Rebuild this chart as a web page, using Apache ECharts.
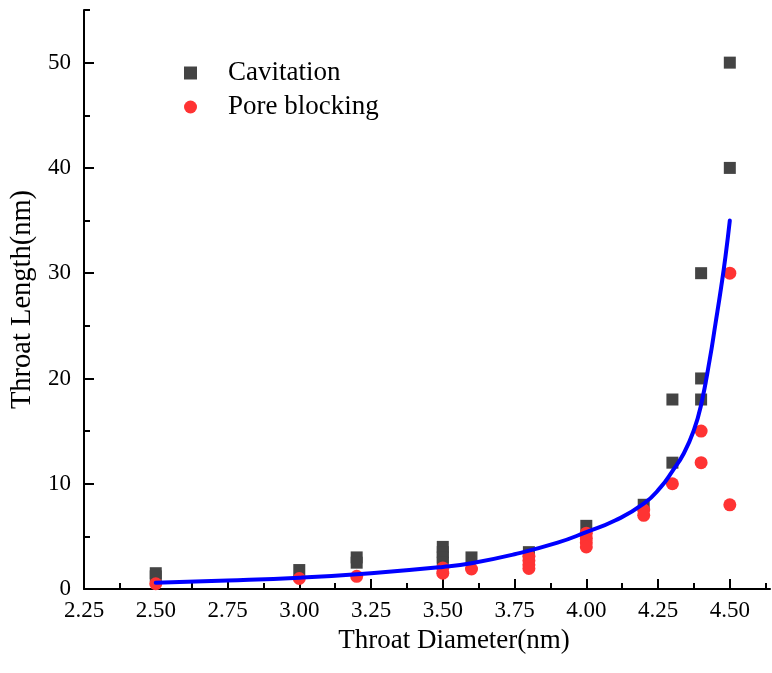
<!DOCTYPE html>
<html>
<head>
<meta charset="utf-8">
<script src="https://cdn.jsdelivr.net/npm/echarts@6/dist/echarts.min.js"></script>
<style>
html,body{margin:0;padding:0;background:#fff;}
#chart{width:772px;height:673px;}
</style>
</head>
<body>
<div id="chart"></div>
<script>
// ---- data ----
const cavitationX = [2.50, 2.50, 3.00, 3.20, 3.20, 3.50, 3.50, 3.50, 3.50, 3.60, 3.80, 4.00, 4.20, 4.30, 4.30, 4.40, 4.40, 4.40, 4.50, 4.50];
const cavitationY = [1.5, 1.2, 1.8, 3.0, 2.5, 4.0, 3.5, 3.0, 2.5, 3.0, 3.5, 6.0, 8.0, 12, 18, 18, 20, 30, 40, 50];

const poreX = [2.50, 3.00, 3.20, 3.50, 3.50, 3.60, 3.80, 3.80, 3.80, 3.80, 4.00, 4.00, 4.00, 4.00, 4.20, 4.20, 4.30, 4.40, 4.40, 4.50, 4.50];
const poreY = [0.5, 1.0, 1.2, 2.0, 1.5, 1.9, 3.1, 2.7, 2.3, 1.95, 5.3, 4.8, 4.4, 4.0, 7.5, 7.0, 10, 15, 12, 30, 8];

const fitX = [2.50, 2.75, 3.00, 3.25, 3.50, 3.60, 3.75, 3.90, 4.00, 4.10, 4.20, 4.26, 4.30, 4.34, 4.375, 4.40, 4.43, 4.45, 4.47, 4.485, 4.50];
const fitY = [0.6, 0.8, 1.07, 1.5, 2.1, 2.45, 3.3, 4.4, 5.4, 6.5, 8.1, 9.7, 11.2, 12.9, 15.1, 17.5, 21.8, 25.2, 28.7, 31.6, 35];

const xTicks = [2.25, 2.50, 2.75, 3.00, 3.25, 3.50, 3.75, 4.00, 4.25, 4.50];
const xMinorTicks = [2.375, 2.625, 2.875, 3.125, 3.375, 3.625, 3.875, 4.125, 4.375, 4.625];
const yTicks = [0, 10, 20, 30, 40, 50];
const yMinorTicks = [5, 15, 25, 35, 45, 55];

const seriesNames = ['Cavitation', 'Pore blocking'];
const xTitle = 'Throat Diameter(nm)';
const yTitle = 'Throat Length(nm)';

// ---- build ----
const zip = (a, b) => a.map((v, i) => [v, b[i]]);
const FONT = "'Liberation Serif', 'DejaVu Serif', serif";
const XMIN = 2.25, XMAX = 4.64, YMIN = 0, YMAX = 55;

const chart = echarts.init(document.getElementById('chart'), null, {renderer: 'canvas'});
chart.setOption({
  backgroundColor: '#ffffff',
  animation: false,
  grid: {left: 84, right: 2, top: 10, bottom: 84, containLabel: false},
  legend: {
    data: seriesNames,
    orient: 'vertical',
    left: 184,
    top: 56,
    padding: 0,
    itemGap: 0,
    itemWidth: 13,
    itemHeight: 13,
    textStyle: {fontFamily: FONT, fontSize: 27, color: '#000', lineHeight: 34, padding: [0, 0, 0, 26]}
  },
  xAxis: [
    {
      type: 'value', min: XMIN, max: XMAX,
      name: xTitle, nameLocation: 'middle', nameGap: 38,
      nameTextStyle: {fontFamily: FONT, fontSize: 27, color: '#000', padding: [0, 0, 0, 54]},
      axisLine: {show: true, onZero: false, lineStyle: {color: '#000', width: 2}},
      axisTick: {show: true, inside: true, length: 10, lineStyle: {color: '#000', width: 2}, customValues: xTicks},
      axisLabel: {customValues: xTicks, formatter: v => v.toFixed(2), fontFamily: FONT, fontSize: 23, color: '#000', margin: 10},
      splitLine: {show: false}
    },
    {
      type: 'value', min: XMIN, max: XMAX, position: 'bottom',
      axisLine: {show: false},
      axisTick: {show: true, inside: true, length: 6, lineStyle: {color: '#000', width: 2}, customValues: xMinorTicks},
      axisLabel: {show: false},
      splitLine: {show: false}
    }
  ],
  yAxis: [
    {
      type: 'value', min: YMIN, max: YMAX,
      name: yTitle, nameLocation: 'middle', nameGap: 42,
      nameTextStyle: {fontFamily: FONT, fontSize: 28.5, color: '#000'},
      axisLine: {show: true, onZero: false, lineStyle: {color: '#000', width: 2}},
      axisTick: {show: true, inside: true, length: 10, lineStyle: {color: '#000', width: 2}, customValues: yTicks},
      axisLabel: {customValues: yTicks, fontFamily: FONT, fontSize: 23, color: '#000', margin: 13},
      splitLine: {show: false}
    },
    {
      type: 'value', min: YMIN, max: YMAX, position: 'left',
      axisLine: {show: false},
      axisTick: {show: true, inside: true, length: 6, lineStyle: {color: '#000', width: 2}, customValues: yMinorTicks},
      axisLabel: {show: false},
      splitLine: {show: false}
    }
  ],
  series: [
    {
      name: seriesNames[0], type: 'scatter', symbol: 'rect', symbolSize: 12,
      itemStyle: {color: '#444444', opacity: 1},
      data: zip(cavitationX, cavitationY), z: 2
    },
    {
      name: seriesNames[1], type: 'scatter', symbol: 'circle', symbolSize: 13,
      itemStyle: {color: '#ff3333', opacity: 1},
      data: zip(poreX, poreY), z: 3
    },
    {
      name: 'Fit', type: 'line', showSymbol: false, symbol: 'none',
      smooth: 0.5,
      lineStyle: {color: '#0000ff', width: 4, cap: 'round', join: 'round'},
      data: zip(fitX, fitY), z: 4
    }
  ]
});
</script>
</body>
</html>
